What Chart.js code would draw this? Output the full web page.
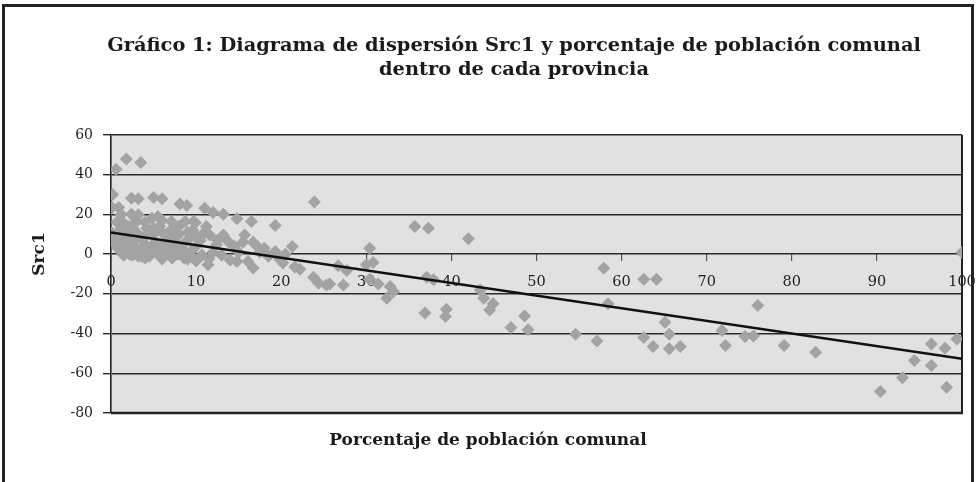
<!DOCTYPE html>
<html>
<head>
<meta charset="utf-8">
<script src="https://cdn.jsdelivr.net/npm/chart.js@4/dist/chart.umd.min.js"></script>
<style>
  html, body { margin: 0; padding: 0; background: #fff; }
  #wrap { position: relative; width: 976px; height: 482px; }
</style>
</head>
<body>
<div id="wrap"><canvas id="myChart" width="976" height="482"></canvas></div>
<script>
// porcentaje de poblacion comunal (x) y Src1 (y)
var pctComunal = [
  0.2, 0.6, 1.8, 3.5, 0.1, 0.9, 2.4, 3.2, 5, 6, 8.1, 8.9,
  0.7, 1.4, 0.1, 2.4, 3.2, 2.8, 4.8, 7.1, 8.7, 9.7,
  11, 12, 13.2, 14.8, 16.5, 19.3, 9.9, 11.2, 11.6, 13.2, 15.7, 16.7, 17.1, 19.3, 20.2,
  10.7, 11.4, 14, 14.8, 16.1, 16.7, 13.8, 12.4,
  0.5, 0.8, 1, 1.2, 1.5, 1.8, 2, 2.2, 2.5, 2.7, 3, 3.2, 3.5, 3.8, 4, 4.2, 4.5, 4.8,
  5, 5.2, 5.5, 5.7, 6, 6.2, 6.5, 6.8, 7, 7.2, 7.5, 7.8, 8, 8.3, 8.6, 9, 9.3, 9.6, 10, 10.3,
  1, 2, 3, 4, 5, 6, 7, 8, 9, 10, 0.3, 1.5, 2.5, 3.6, 4.6, 5.5, 6.5, 7.5, 8.5, 9.5, 10.5,
  11, 12, 12.5, 13, 14.5, 15, 15.5, 17.5, 18, 18.5, 19.8, 20.5, 11.5, 10, 9, 6, 4,
  2.5, 1.5, 0.3, 3, 4, 6, 5.5, 1.2,
  21.3, 21.6, 22.2, 23.9, 23.8, 24.4, 25.3, 25.7, 26.7, 27.7, 27.3,
  30.4, 30, 30.8, 30.4, 31.4, 32.8, 33.2, 32.4,
  35.7, 37.3, 42, 37.1, 37.9, 36.9, 39.4, 39.3, 43.4, 43.8, 44.9, 44.5, 47, 48.6, 49, 54.6,
  57.9, 58.4, 62.6, 64.1, 57.1, 62.6, 63.7, 65.1, 65.6, 65.6, 66.9,
  71.8, 72.2, 74.5, 75.5, 76, 79.1, 82.8,
  100, 99.4, 98, 96.4, 94.4, 96.4, 93, 98.2, 90.4
];
var src1 = [
  30, 42.8, 47.9, 46.1, 23.5, 23.5, 28.2, 27.9, 28.5, 27.9, 25.2, 24.5,
  16.1, 16, 10.6, 20.1, 19.8, 15.6, 18.1, 16.4, 16.4, 16.4,
  23.1, 21, 20.1, 17.8, 16.4, 14.4, 15.8, 13.9, 9.7, 9.7, 9.7, 6, 4.3, 1.3, -4.5,
  -0.4, -5.4, -2.9, -3.7, -3.7, -7, 6.3, 4.7,
  5, 3, 7, 1, 4, 9, 2, 0, 6, 12, 3, -1, 8, 1, 5, 13, -1, 3,
  10, 6, 0, 14, 4, -1, 9, 2, 12, -2, 6, 0, 10, 3, -2, 7, 1, 12, 4, -2,
  12, 14, 11, 9, 13, 11, 8, 14, 11, 9, 8, -0.5, -0.5, -1, 0.5, 2.5, 5, 3, 5, -1.5, 7,
  11, 1, 7, -0.5, 4, 1, 6, 1, 3, -1, -2.5, 0, -2.5, -3.5, -2.5, -2.5, -2,
  12, 14, 6, 17, 16, 17, 19, 20,
  3.8, -6.5, -7.6, 26.2, -11.6, -14.6, -15.5, -15, -5.9, -8.3, -15.5,
  3, -5.4, -4.2, -12.6, -15, -16.3, -18.8, -22.2,
  13.9, 13.1, 7.7, -11.6, -12.9, -29.7, -27.7, -31.4, -18, -22.2, -25, -28.1, -37, -31.1, -38.1, -40.3,
  -7.1, -25, -12.6, -12.6, -43.7, -42, -46.5, -34.3, -40.3, -47.7, -46.5,
  -38.5, -46, -41.5, -41.2, -25.9, -46, -49.4,
  0.8, -42.7, -47.4, -45.3, -53.6, -56.1, -62.2, -67, -69.2
];
// recta de tendencia lineal (extremos)
var trendX = [0, 100];
var trendY = [10.9, -52.7];

var yTicks = [60, 40, 20, 0, -20, -40, -60, -80];

var titleLines = ['Gráfico 1: Diagrama de dispersión Src1 y porcentaje de población comunal', 'dentro de cada provincia'];
var xTitle = 'Porcentaje de población comunal';
var yTitle = 'Src1';

var puntos = pctComunal.map(function(x, i) { return {x: x, y: src1[i]}; });
var tendencia = trendX.map(function(x, i) { return {x: x, y: trendY[i]}; });

var SERIF = '"DejaVu Serif", "Liberation Serif", serif';

var marco = {
  id: 'marco',
  beforeDraw: function(chart) {
    var ctx = chart.ctx, a = chart.chartArea;
    ctx.save();
    ctx.fillStyle = '#e1e1e1';
    ctx.fillRect(a.left, a.top, a.right - a.left, a.bottom - a.top);
    ctx.restore();
  },
  beforeDatasetsDraw: function(chart) {
    var ctx = chart.ctx, a = chart.chartArea;
    ctx.save();
    ctx.strokeStyle = '#222';
    ctx.lineWidth = 2;
    ctx.beginPath();
    ctx.moveTo(a.right, a.top);
    ctx.lineTo(a.right, a.bottom);
    ctx.stroke();
    ctx.lineWidth = 2.5;
    ctx.beginPath();
    ctx.moveTo(a.left, a.bottom);
    ctx.lineTo(a.right + 1, a.bottom);
    ctx.stroke();
    ctx.restore();
  },
  afterDraw: function(chart) {
    var ctx = chart.ctx;
    ctx.save();
    // borde exterior
    ctx.strokeStyle = '#222';
    ctx.lineWidth = 3;
    ctx.beginPath();
    ctx.moveTo(3.5, 490);
    ctx.lineTo(3.5, 5.5);
    ctx.lineTo(972.5, 5.5);
    ctx.lineTo(972.5, 490);
    ctx.stroke();
    // titulos
    ctx.fillStyle = '#1a1a1a';
    ctx.textAlign = 'center';
    ctx.textBaseline = 'middle';
    ctx.font = 'bold 19.4px ' + SERIF;
    ctx.fillText(titleLines[0], 514, 46);
    ctx.fillText(titleLines[1], 514, 70);
    ctx.font = 'bold 17px ' + SERIF;
    ctx.fillText(xTitle, 488, 441);
    ctx.translate(40, 254);
    ctx.rotate(-Math.PI / 2);
    ctx.fillText(yTitle, 0, 0);
    ctx.restore();
  }
};

var ctx = document.getElementById('myChart').getContext('2d');
var chart = new Chart(ctx, {
  type: 'scatter',
  data: {
    datasets: [{
      type: 'line',
      label: 'Tendencia',
      data: tendencia,
      borderColor: '#111',
      borderWidth: 2.5,
      pointRadius: 0,
      fill: false,
      order: 0
    }, {
      label: 'Src1',
      data: puntos,
      pointStyle: 'rectRot',
      pointRadius: 6.5,
      backgroundColor: '#a3a3a3',
      borderColor: '#a3a3a3',
      borderWidth: 0,
      order: 1
    }]
  },
  options: {
    responsive: false,
    animation: false,
    layout: { padding: { top: 135, right: 14, bottom: 69, left: 0 } },
    plugins: {
      legend: { display: false },
      title: { display: false },
      tooltip: { enabled: false }
    },
    scales: {
      x: {
        type: 'linear',
        position: { y: 0 },
        min: 0,
        max: 100,
        afterFit: function(scale) { scale.paddingLeft = 0; scale.paddingRight = 0; },
        ticks: { stepSize: 10, color: '#222', padding: 12, font: { family: SERIF, size: 14.5 } },
        grid: { drawOnChartArea: false, drawTicks: true, tickLength: 7, color: '#555', lineWidth: 1.2 },
        border: { display: false }
      },
      y: {
        type: 'linear',
        min: -80,
        max: 60,
        afterBuildTicks: function(scale) {
          scale.ticks = yTicks.slice().reverse().map(function(v) { return {value: v}; });
        },
        afterFit: function(scale) { scale.width = 111; },
        ticks: { color: '#222', padding: 10, font: { family: SERIF, size: 14 } },
        grid: { color: '#2a2a2a', lineWidth: 1.4, tickLength: 8 },
        border: { display: true, color: '#222', width: 1.6 }
      }
    }
  },
  plugins: [marco]
});
</script>
</body>
</html>
